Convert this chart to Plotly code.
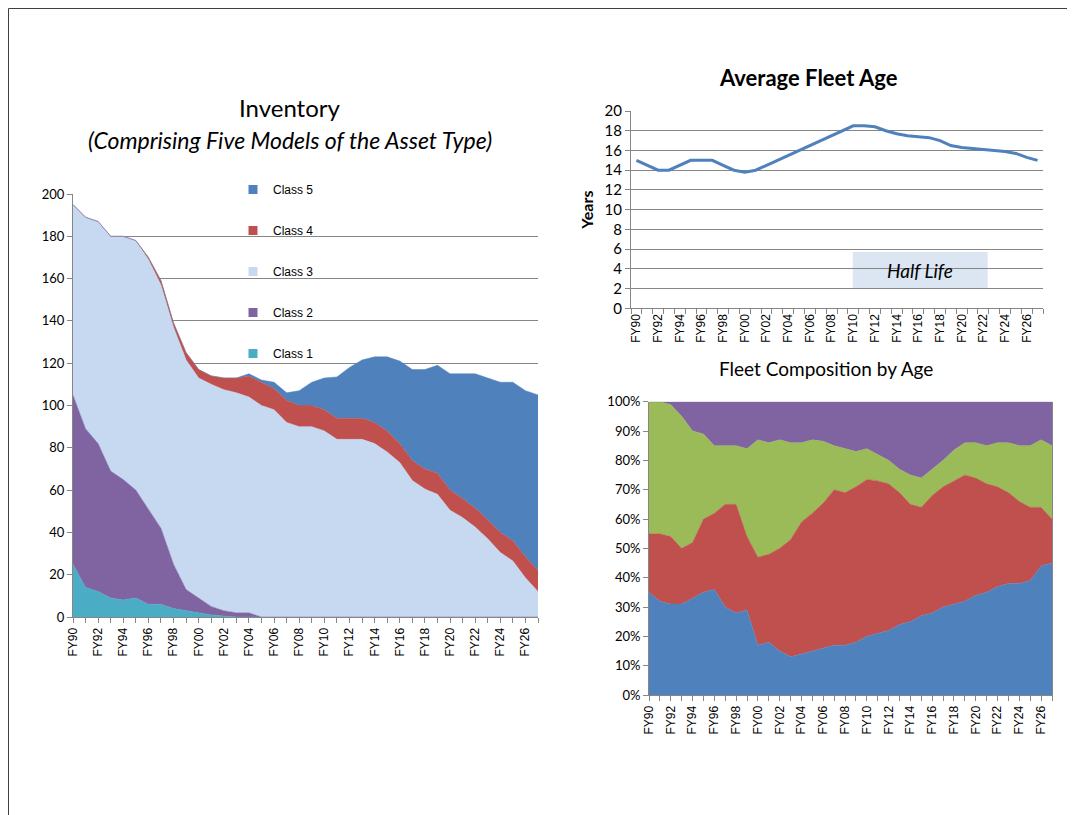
import plotly.graph_objects as go

years = [f"FY{(90 + i) % 100:02d}" for i in range(38)]

# Inventory (units) by class, FY90..FY27
class1 = [25, 14, 12, 9, 8, 9, 6, 6, 4, 3, 2, 1, 0.5, 0, 0, 0, 0, 0, 0, 0,
          0, 0, 0, 0, 0, 0, 0, 0, 0, 0, 0, 0, 0, 0, 0, 0, 0, 0]
class2 = [80, 75, 70, 60, 57, 51, 45, 36, 21, 10, 7, 4, 2.5, 2, 2, 0, 0, 0, 0, 0,
          0, 0, 0, 0, 0, 0, 0, 0, 0, 0, 0, 0, 0, 0, 0, 0, 0, 0]
class3 = [90, 100, 105, 111, 115, 118, 118, 115, 112, 108.5, 104, 105, 104.5, 104, 102, 100, 98, 92, 90, 90,
          88, 84, 84, 84, 82, 78, 73, 64.5, 60.5, 58, 50.5, 47, 42.5, 37, 30.5, 26.5, 18.5, 12]
class4 = [0, 0, 0, 0, 0, 0, 1, 2, 2, 3.5, 4, 4, 5.5, 7, 10, 11, 10, 10.5, 10, 10,
          10, 10, 10, 10, 10, 10, 9, 9.5, 9.5, 10, 9.5, 9, 9, 9, 9.5, 9.5, 10, 10]
class5 = [0, 0, 0, 0, 0, 0, 0, 0, 0, 0, 0, 0, 0, 0, 1, 1, 3, 3.5, 7, 11,
          15, 19.5, 24, 27.5, 31, 35, 39, 43, 47, 51, 55, 59, 63.5, 67, 71, 75, 78.5, 83]

# Average fleet age (years)
avg_age = [15, 14.5, 14, 14, 14.5, 15, 15, 15, 14.5, 14, 13.8, 14, 14.5, 15, 15.5, 16, 16.5, 17, 17.5, 18,
           18.5, 18.5, 18.4, 18, 17.7, 17.5, 17.4, 17.3, 17, 16.5, 16.3, 16.2, 16.1, 16, 15.9, 15.7, 15.3, 15]

# Fleet composition by age (percent of fleet), bottom to top
comp_blue = [35, 32, 31, 31, 33, 35, 36, 30, 28, 29, 17, 18, 15, 13, 14, 15, 16, 17, 17, 18,
             20, 21, 22, 24, 25, 27, 28, 30, 31, 32, 34, 35, 37, 38, 38, 39, 44, 45]
comp_red = [20, 23, 23, 19, 19, 25, 26, 35, 37, 25, 30, 30, 35, 40, 45, 47, 49.5, 53, 52, 53,
            53.5, 52, 50, 45, 40, 37, 40, 41, 42, 43, 40, 37, 34, 31, 28, 25, 20, 15]
comp_green = [45, 45, 45, 45, 38, 29, 23, 20, 20, 30, 40, 38, 37, 33, 27, 25, 21, 15, 15, 12,
              10.5, 9, 8, 8, 10, 10, 9, 9, 10.5, 11, 12, 13, 15, 17, 19, 21, 23, 25]
comp_purple = [0, 0, 1, 5, 10, 11, 15, 15, 15, 16, 13, 14, 13, 14, 14, 13, 13.5, 15, 16, 17,
               16, 18, 20, 23, 25, 26, 23, 20, 16.5, 14, 14, 15, 14, 14, 15, 15, 13, 15]

tick_labels = [y if i % 2 == 0 else "" for i, y in enumerate(years)]

W, H = 1075, 815
OFF = 8  # page body margin
def px(x):
    return (x - OFF) / W
def py(y):
    return 1 - (y - OFF) / H

CAL = "Lato, 'Liberation Sans', sans-serif"
ARI = "'Liberation Sans', Arial, sans-serif"
GRID = "#868686"

fig = go.Figure()

inv_series = [("Class 1", class1, "#4BACC6"), ("Class 2", class2, "#8064A2"),
              ("Class 3", class3, "#C6D9F1"), ("Class 4", class4, "#C0504D"),
              ("Class 5", class5, "#4F81BD")]
for i, (name, vals, col) in enumerate(inv_series):
    fig.add_trace(go.Scatter(x=years, y=vals, name=name, stackgroup="inv", mode="lines",
                             line=dict(width=0.5, color=col), fillcolor=col,
                             legendgroup=name, showlegend=False, xaxis="x", yaxis="y"))
# legend keys (square swatches, as in the original)
for i, (name, vals, col) in enumerate(inv_series):
    fig.add_trace(go.Scatter(x=[None], y=[None], name=name, mode="markers",
                             marker=dict(symbol="square", size=9, color=col),
                             legendgroup=name, legendrank=10 - i, xaxis="x", yaxis="y"))

fig.add_trace(go.Scatter(x=years, y=avg_age, name="Average Age", mode="lines",
                         line=dict(color="#4F81BD", width=3), showlegend=False,
                         xaxis="x2", yaxis="y2"))

comp_series = [("Young", comp_blue, "#4F81BD"), ("Middle", comp_red, "#C0504D"),
               ("Mature", comp_green, "#9BBB59"), ("Old", comp_purple, "#8064A2")]
for name, vals, col in comp_series:
    fig.add_trace(go.Scatter(x=years, y=vals, name=name, stackgroup="comp", mode="lines",
                             line=dict(width=0.5, color=col), fillcolor=col,
                             showlegend=False, xaxis="x3", yaxis="y3"))

xcommon = dict(type="category", tickmode="array", tickvals=years, ticktext=tick_labels,
               tickangle=-90, ticks="outside", ticklen=5, tickcolor=GRID,
               showline=True, linecolor=GRID, showgrid=False, automargin=False,
               tickfont=dict(family=ARI, size=12, color="#000000"))

fig.update_layout(
    template="none",
    width=W, height=H, margin=dict(l=0, r=0, t=0, b=0, pad=0), autosize=False,
    paper_bgcolor="white", plot_bgcolor="white",
    xaxis=dict(domain=[px(73), px(538)], anchor="y", range=[0, 37], **xcommon),
    yaxis=dict(domain=[py(617), py(194)], anchor="x", range=[0, 200], dtick=20, automargin=False,
               showgrid=True, gridcolor=GRID, gridwidth=1, showline=True, linecolor=GRID,
               ticks="outside", ticklen=5, tickcolor=GRID, zeroline=False,
               tickfont=dict(family=CAL, size=13, color="#000000")),
    xaxis2=dict(domain=[px(631), px(1043)], anchor="y2", range=[-0.5, 37.5],
                tickson="boundaries", **xcommon),
    yaxis2=dict(domain=[py(308.3), py(111)], anchor="x2", range=[0, 20], dtick=2, automargin=False,
                showgrid=True, gridcolor=GRID, gridwidth=1, showline=True, linecolor=GRID,
                ticks="outside", ticklen=5, tickcolor=GRID, zeroline=False,
                title=dict(text="<b>Years</b>", font=dict(family=CAL, size=16, color="#000000"),
                           standoff=6),
                tickfont=dict(family=CAL, size=15, color="#000000")),
    xaxis3=dict(domain=[px(649), px(1052)], anchor="y3", range=[0, 37], **xcommon),
    yaxis3=dict(domain=[py(695), py(401.7)], anchor="x3", range=[0, 100], dtick=10, automargin=False,
                ticksuffix="%", showgrid=False, showline=True, linecolor=GRID, mirror=True,
                ticks="outside", ticklen=5, tickcolor=GRID, zeroline=False,
                tickfont=dict(family=CAL, size=13, color="#000000")),
    legend=dict(x=px(233), y=py(175), xanchor="left", yanchor="top",
                traceorder="grouped", tracegroupgap=22,
                font=dict(family=ARI, size=12, color="#000000"),
                bgcolor="rgba(0,0,0,0)", itemwidth=30),
    showlegend=True,
)

def title(text, x, y, size, bold=False, italic=False):
    if bold:
        text = f"<b>{text}</b>"
    if italic:
        text = f"<i>{text}</i>"
    fig.add_annotation(text=text, x=px(x), y=py(y), xref="paper", yref="paper",
                       xanchor="center", yanchor="middle", showarrow=False,
                       font=dict(family=CAL, size=size, color="#000000"))

title("Inventory", 290, 108, 24)
title("(Comprising Five Models of the Asset Type)", 290, 140, 23, italic=True)
title("Average Fleet Age", 808, 78, 22, bold=True)
title("Fleet Composition by Age", 826, 368, 19)

# Half Life text box
fig.add_shape(type="rect", xref="x2", yref="y2", x0=19.95, x1=32.4, y0=2.06, y1=5.7,
              fillcolor="#DCE6F2", line=dict(width=0), layer="below")
fig.add_annotation(text="<i>Half Life</i>", xref="x2", yref="y2", x=26.2, y=3.85, showarrow=False,
                   xanchor="center", yanchor="middle",
                   font=dict(family=CAL, size=19, color="#000000"))

# slide frame
fig.add_shape(type="line", xref="paper", yref="paper", x0=px(8.5), x1=1, y0=py(8.5), y1=py(8.5),
              line=dict(color="#404040", width=1))
fig.add_shape(type="line", xref="paper", yref="paper", x0=px(8.5), x1=px(8.5), y0=py(8.5), y1=0,
              line=dict(color="#404040", width=1))

fig.write_html("out.html")
